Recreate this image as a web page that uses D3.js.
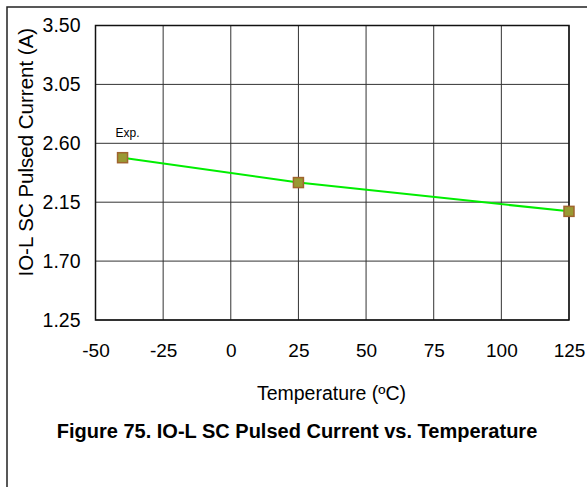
<!DOCTYPE html>
<html>
<head>
<meta charset="utf-8">
<script src="https://cdnjs.cloudflare.com/ajax/libs/d3/7.8.5/d3.min.js"></script>
<style>
  body { margin: 0; background: #fff; }
  svg text { font-family: "Liberation Sans", Arial, sans-serif; fill: #000; }
</style>
</head>
<body>
<svg id="chart" width="587" height="487"></svg>
<script>
// chart data
let temps = [-40, 25, 125]
let current = [2.49, 2.30, 2.08]
let seriesLabel = "Exp."
let xTicks = [-50, -25, 0, 25, 50, 75, 100, 125]
let yTicks = [1.25, 1.70, 2.15, 2.60, 3.05, 3.50]

let margin = { top: 25.5, right: 18, bottom: 167, left: 95.5 },
    width = 587 - margin.left - margin.right,
    height = 487 - margin.top - margin.bottom;

let root = d3.select('#chart')

// outer frame (runs off the right and bottom of the picture)
root.append('rect')
    .attr('x', 7).attr('y', 7)
    .attr('width', 620).attr('height', 520)
    .attr('fill', 'none')
    .attr('stroke', '#222')
    .attr('stroke-width', 1.5)

let svg = root.append('g')
    .attr('transform', `translate(${margin.left}, ${margin.top})`)

let x = d3.scaleLinear().domain([-50, 125]).range([0, width])
let y = d3.scaleLinear().domain([1.25, 3.5]).range([height, 0])

// grid
svg.append('g')
    .selectAll('line')
    .data(xTicks)
    .enter().append('line')
    .attr('x1', d => x(d)).attr('x2', d => x(d))
    .attr('y1', 0).attr('y2', height)
    .attr('stroke', '#333').attr('stroke-width', 1)

svg.append('g')
    .selectAll('line')
    .data(yTicks)
    .enter().append('line')
    .attr('x1', 0).attr('x2', width)
    .attr('y1', d => y(d)).attr('y2', d => y(d))
    .attr('stroke', '#333').attr('stroke-width', 1)

svg.append('rect')
    .attr('width', width).attr('height', height)
    .attr('fill', 'none')
    .attr('stroke', '#111')
    .attr('stroke-width', 1.5)

// axes (labels only)
let yAxis = svg.append('g')
    .call(d3.axisLeft(y).tickValues(yTicks).tickFormat(d3.format('.2f')).tickSize(0).tickPadding(15))
yAxis.select('.domain').remove()
yAxis.selectAll('text')
    .style('font-size', '19.5px')
    .style('font-family', '"Liberation Sans", Arial, sans-serif')

let xAxis = svg.append('g')
    .attr('transform', `translate(0, ${height})`)
    .call(d3.axisBottom(x).tickValues(xTicks).tickFormat(d => String(d)).tickSize(0).tickPadding(24))
xAxis.select('.domain').remove()
xAxis.selectAll('text')
    .style('font-size', '19px')
    .style('font-family', '"Liberation Sans", Arial, sans-serif')

// series
let pts = temps.map((t, i) => [t, current[i]])

svg.append('path')
    .datum(pts)
    .attr('fill', 'none')
    .attr('stroke', '#00ee00')
    .attr('stroke-width', 2)
    .attr('d', d3.line().x(d => x(d[0])).y(d => y(d[1])))

svg.selectAll('.pt')
    .data(pts)
    .enter().append('rect')
    .attr('class', 'pt')
    .attr('x', d => x(d[0]) - 5)
    .attr('y', d => y(d[1]) - 5)
    .attr('width', 10).attr('height', 10)
    .attr('fill', '#999933')
    .attr('stroke', '#a0642e')
    .attr('stroke-width', 1.5)

svg.append('text')
    .attr('x', x(temps[0]) - 7)
    .attr('y', y(current[0]) - 21)
    .style('font-size', '12px')
    .text(seriesLabel)

// titles
svg.append('text')
    .attr('x', x(25) + 33)
    .attr('y', height + 80)
    .attr('text-anchor', 'middle')
    .style('font-size', '19.5px')
    .text('Temperature (ºC)')

svg.append('text')
    .attr('transform', 'rotate(-90)')
    .attr('x', -(y(2.15) - 50))
    .attr('y', -63)
    .attr('text-anchor', 'middle')
    .style('font-size', '20.5px')
    .text('IO-L SC Pulsed Current (A)')

root.append('text')
    .attr('x', 297)
    .attr('y', 438)
    .attr('text-anchor', 'middle')
    .style('font-size', '20px')
    .style('font-weight', 'bold')
    .text('Figure 75. IO-L SC Pulsed Current vs. Temperature')
</script>
</body>
</html>
